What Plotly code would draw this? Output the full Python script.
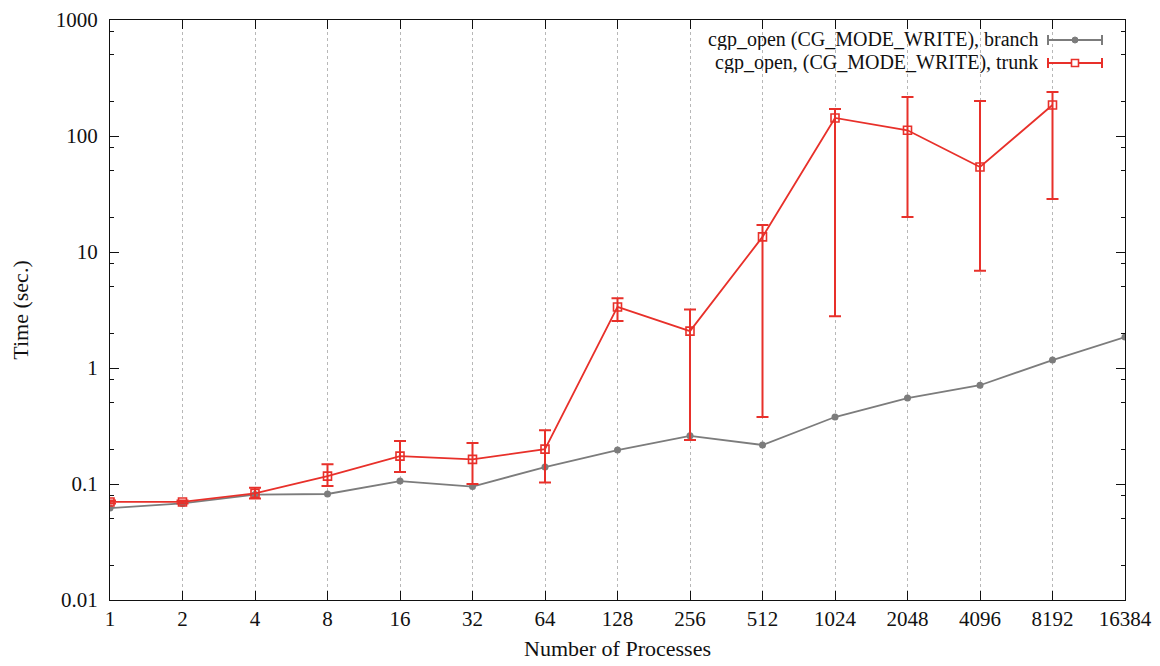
import plotly.graph_objects as go

procs = [1, 2, 4, 8, 16, 32, 64, 128, 256, 512, 1024, 2048, 4096, 8192, 16384]
tick_labels = [str(p) for p in procs]

branch_time = [0.062, 0.068, 0.081, 0.082, 0.106, 0.095, 0.14, 0.196, 0.26, 0.217,
               0.378, 0.55, 0.71, 1.17, 1.85]

trunk_procs = [1, 2, 4, 8, 16, 32, 64, 128, 256, 512, 1024, 2048, 4096, 8192]
trunk_time = [0.070, 0.070, 0.083, 0.117, 0.174, 0.163, 0.20, 3.36, 2.08, 13.5,
              143, 112, 54, 185]
trunk_hi = [0.072, 0.072, 0.093, 0.148, 0.235, 0.226, 0.29, 4.0, 3.2, 17.1,
            171, 217, 200, 239]
trunk_lo = [0.068, 0.068, 0.075, 0.096, 0.127, 0.100, 0.103, 2.54, 0.24, 0.378,
            2.8, 20, 6.9, 28.6]

y_ticks = [0.01, 0.1, 1, 10, 100, 1000]
y_tick_labels = ["0.01", "0.1", "1", "10", "100", "1000"]
y_minor = [m * 10 ** e for e in range(-2, 3) for m in (2, 5, 8)]

GRAY = "#7c7c7c"
RED = "#e8302a"
FONT = "Liberation Serif"
INK = "#111111"

fig = go.Figure()
fig.add_trace(go.Scatter(
    x=procs, y=branch_time, mode="lines+markers", name="branch",
    line=dict(color=GRAY, width=1.8),
    marker=dict(symbol="circle", size=7, color=GRAY),
    showlegend=False,
))
fig.add_trace(go.Scatter(
    x=trunk_procs, y=trunk_time, mode="lines+markers", name="trunk",
    line=dict(color=RED, width=1.8),
    marker=dict(symbol="square-open", size=8, color=RED, line=dict(width=1.6)),
    error_y=dict(type="data", symmetric=False,
                 array=[h - v for h, v in zip(trunk_hi, trunk_time)],
                 arrayminus=[v - l for l, v in zip(trunk_lo, trunk_time)],
                 color=RED, thickness=2, width=6),
    showlegend=False,
))

# page has an 8px body margin; figure is sized/offset to compensate
OFF = 8
W, H = 1152, 658
ml, mr, mt, mb = 102, 35, 12, 66
pw, ph = W - ml - mr, H - mt - mb
def px(xp):
    return (xp - OFF - ml) / pw
def py(yp):
    return 1 - (yp - OFF - mt) / ph

# manual legend (text right-aligned, sample on the right like gnuplot)
legend_items = [("cgp_open (CG_MODE_WRITE), branch", GRAY, "circle", 40),
                ("cgp_open, (CG_MODE_WRITE), trunk", RED, "square", 63)]
shapes = []
annotations = []
for text, col, sym, yc in legend_items:
    annotations.append(dict(x=px(1039), y=py(yc), xref="paper", yref="paper",
                            text=text, showarrow=False, xanchor="right", yanchor="middle",
                            height=21, borderpad=0,
                            font=dict(family=FONT, size=20, color=INK)))
    shapes.append(dict(type="line", xref="paper", yref="paper",
                       x0=px(1048), x1=px(1102), y0=py(yc), y1=py(yc),
                       line=dict(color=col, width=2)))
    for xe in (1048, 1102):
        shapes.append(dict(type="line", xref="paper", yref="paper",
                           x0=px(xe), x1=px(xe), y0=py(yc - 5), y1=py(yc + 5),
                           line=dict(color=col, width=2)))
    if sym == "circle":
        shapes.append(dict(type="circle", xref="paper", yref="paper",
                           x0=px(1072), x1=px(1078), y0=py(yc - 3), y1=py(yc + 3),
                           fillcolor=col, line=dict(color=col, width=1)))
    else:
        shapes.append(dict(type="rect", xref="paper", yref="paper",
                           x0=px(1071.5), x1=px(1078.5), y0=py(yc - 3.5), y1=py(yc + 3.5),
                           fillcolor="white", line=dict(color=col, width=1.6)))

fig.update_layout(
    width=W, height=H,
    margin=dict(l=ml, r=mr, t=mt, b=mb),
    paper_bgcolor="white", plot_bgcolor="white",
    font=dict(family=FONT, size=20, color=INK),
    shapes=shapes, annotations=annotations,
    xaxis=dict(
        type="log", range=[0, 4.2144199], tickvals=procs, ticktext=tick_labels,
        tickfont=dict(family=FONT, size=21, color=INK),
        showgrid=True, gridcolor="#b8b8b8", griddash="dot", gridwidth=1,
        ticks="inside", ticklen=9, tickcolor=INK, mirror="ticks",
        showline=True, linecolor=INK, linewidth=1.2,
        title=dict(text="Number of Processes", standoff=10,
                   font=dict(family=FONT, size=22, color=INK)),
        zeroline=False, automargin=False,
    ),
    yaxis=dict(
        type="log", range=[-2, 3], tickvals=y_ticks, ticktext=y_tick_labels,
        tickfont=dict(family=FONT, size=21, color=INK),
        showgrid=False,
        ticks="inside", ticklen=9, tickcolor=INK, mirror="ticks",
        showline=True, linecolor=INK, linewidth=1.2,
        minor=dict(tickmode="array", tickvals=y_minor, ticks="inside", ticklen=4,
                   tickcolor=INK, showgrid=False),
        title=dict(text="Time (sec.)", standoff=22,
                   font=dict(family=FONT, size=22, color=INK)),
        ticklabelstandoff=7,
        zeroline=False, automargin=False,
    ),
)

fig.write_html("out.html")
